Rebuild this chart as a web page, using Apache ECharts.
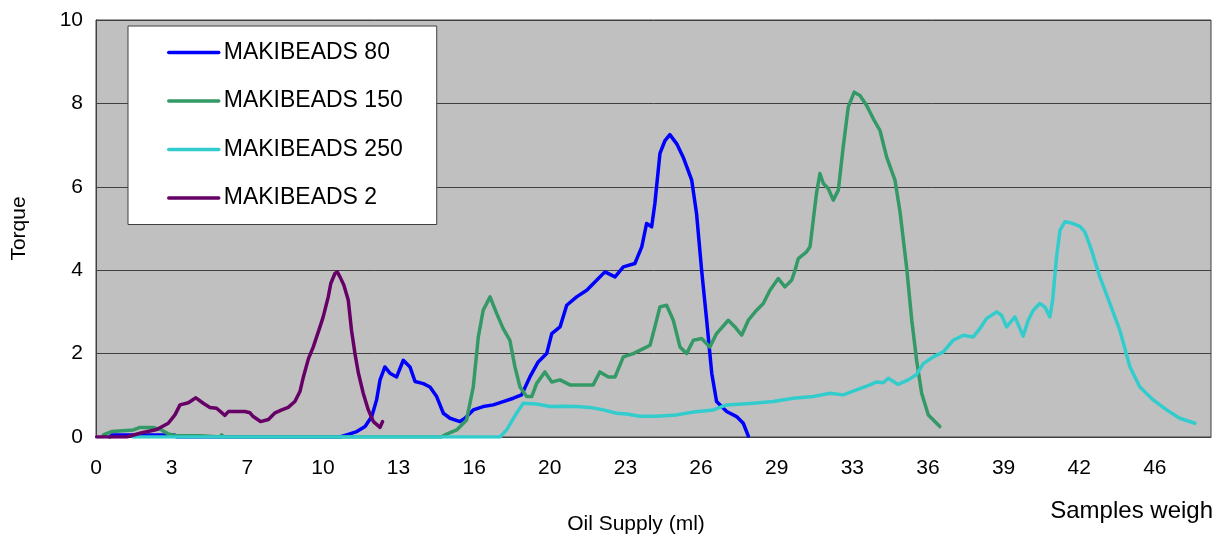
<!DOCTYPE html>
<html>
<head>
<meta charset="utf-8">
<script src="https://cdn.jsdelivr.net/npm/echarts@6/dist/echarts.min.js"></script>
<style>
html,body{margin:0;padding:0;background:#fff;}
#chart{width:1213px;height:537px;}
</style>
</head>
<body>
<div id="chart"></div>
<script>
// ---- data ----
const seriesNames = ['MAKIBEADS 80', 'MAKIBEADS 150', 'MAKIBEADS 250', 'MAKIBEADS 2'];
const xTickLabels = ['0','3','7','10','13','16','20','23','26','29','33','36','39','42','46'];
const yTicks = [0, 2, 4, 6, 8, 10];

const mb80 = [[0.6,0],[0.7,0.05],[2.5,0.05],[3.4,0.05],[3.5,0],[10.6,0],[10.89,0.05],[11.33,0.13],[11.69,0.25],[11.98,0.49],[12.19,0.89],[12.34,1.37],[12.55,1.68],[12.77,1.53],[13.06,1.44],[13.35,1.84],[13.42,1.84],[13.64,1.68],[13.86,1.33],[14.22,1.28],[14.51,1.2],[14.8,0.97],[15.09,0.57],[15.38,0.45],[15.81,0.37],[16.03,0.45],[16.39,0.65],[16.82,0.73],[17.26,0.77],[17.69,0.85],[18.13,0.93],[18.49,1.01],[18.85,1.44],[19.21,1.8],[19.58,2.0],[19.8,2.48],[20.16,2.64],[20.45,3.16],[20.88,3.36],[21.32,3.52],[21.75,3.76],[22.11,3.96],[22.55,3.84],[22.91,4.08],[23.41,4.16],[23.71,4.56],[23.92,5.12],[24.14,5.04],[24.28,5.6],[24.5,6.8],[24.72,7.11],[24.93,7.25],[25.23,7.03],[25.51,6.71],[25.88,6.16],[26.09,5.36],[26.31,4.0],[26.53,2.8],[26.75,1.53],[26.96,0.85],[27.4,0.61],[27.83,0.49],[28.12,0.33],[28.34,0.02]];

const mb150 = [[0.32,0.05],[0.68,0.13],[1.62,0.17],[1.91,0.23],[2.49,0.23],[2.85,0.17],[3.14,0.07],[3.5,0.03],[4.52,0.03],[5.39,0],[5.46,0.05],[5.55,0],[15.0,0],[15.16,0.05],[15.67,0.17],[16.1,0.41],[16.39,1.2],[16.61,2.4],[16.82,3.04],[17.12,3.36],[17.41,2.96],[17.69,2.6],[17.98,2.32],[18.2,1.68],[18.42,1.2],[18.71,0.97],[18.93,0.97],[19.14,1.28],[19.5,1.56],[19.8,1.32],[20.16,1.37],[20.59,1.25],[21.03,1.25],[21.6,1.25],[21.89,1.56],[22.26,1.44],[22.55,1.44],[22.91,1.92],[23.34,2.0],[23.78,2.12],[24.07,2.2],[24.28,2.64],[24.5,3.12],[24.79,3.16],[25.08,2.8],[25.37,2.16],[25.66,2.0],[25.95,2.32],[26.31,2.36],[26.67,2.16],[26.96,2.48],[27.47,2.8],[27.76,2.64],[28.05,2.44],[28.34,2.8],[28.7,3.04],[28.99,3.2],[29.28,3.52],[29.64,3.8],[29.93,3.6],[30.22,3.76],[30.37,4.0],[30.51,4.28],[30.87,4.44],[31.02,4.56],[31.16,5.2],[31.3,5.84],[31.45,6.32],[31.6,6.08],[31.81,5.96],[32.03,5.68],[32.25,5.92],[32.46,6.95],[32.68,7.91],[32.94,8.27],[33.19,8.19],[33.48,7.95],[33.77,7.63],[34.06,7.35],[34.35,6.71],[34.71,6.16],[34.93,5.4],[35.22,4.05],[35.44,2.8],[35.65,1.84],[35.87,1.05],[36.16,0.53],[36.66,0.25]];

const mb250 = [[1.6,0],[17.55,0],[17.84,0.17],[18.27,0.57],[18.56,0.81],[19.14,0.79],[19.72,0.73],[20.3,0.74],[20.88,0.73],[21.46,0.71],[22.04,0.65],[22.62,0.57],[23.05,0.55],[23.63,0.5],[24.36,0.5],[25.23,0.53],[25.95,0.6],[26.82,0.65],[27.4,0.77],[28.56,0.81],[29.42,0.85],[30.29,0.93],[31.16,0.97],[31.89,1.05],[32.46,1.01],[33.04,1.13],[33.62,1.25],[33.91,1.32],[34.2,1.3],[34.42,1.41],[34.85,1.26],[35.29,1.37],[35.65,1.5],[35.94,1.76],[36.37,1.92],[36.81,2.04],[37.24,2.32],[37.68,2.44],[38.11,2.4],[38.4,2.6],[38.69,2.84],[39.13,3.0],[39.34,2.92],[39.56,2.64],[39.92,2.88],[40.28,2.42],[40.5,2.8],[40.72,3.04],[41.0,3.2],[41.22,3.12],[41.44,2.88],[41.56,3.28],[41.73,4.32],[41.88,4.96],[42.09,5.16],[42.38,5.13],[42.75,5.05],[42.96,4.92],[43.25,4.48],[43.61,3.84],[44.05,3.2],[44.48,2.56],[44.92,1.68],[45.35,1.2],[45.93,0.89],[46.51,0.65],[47.08,0.45],[47.74,0.33]];

const mb2 = [[0.03,0],[1.33,0],[1.91,0.09],[2.64,0.18],[3.14,0.33],[3.43,0.53],[3.65,0.77],[4.01,0.82],[4.34,0.94],[4.66,0.81],[4.95,0.71],[5.24,0.69],[5.6,0.52],[5.75,0.61],[6.11,0.61],[6.47,0.61],[6.69,0.58],[6.83,0.49],[7.15,0.37],[7.49,0.42],[7.78,0.58],[8.07,0.65],[8.35,0.71],[8.64,0.85],[8.86,1.09],[9.01,1.44],[9.23,1.88],[9.44,2.16],[9.73,2.64],[9.87,2.88],[10.09,3.36],[10.2,3.68],[10.38,3.92],[10.48,3.96],[10.6,3.84],[10.77,3.64],[10.96,3.28],[11.1,2.56],[11.25,2.0],[11.4,1.53],[11.61,1.05],[11.83,0.65],[12.05,0.37],[12.34,0.23],[12.45,0.37]];

const seriesData = [mb80, mb150, mb250, mb2];
const seriesColors = ['#0000FF', '#339966', '#33CCCC', '#660066'];

// ---- chart ----
const FONT = '"Liberation Sans", Arial, sans-serif';
const xStep = 46 / 14;
const chart = echarts.init(document.getElementById('chart'), null, {renderer: 'canvas'});
const option = {
  backgroundColor: '#ffffff',
  animation: false,
  textStyle: {fontFamily: FONT, color: '#000'},
  title: {
    text: 'Samples weigh',
    right: 0,
    top: 499,
    padding: 0,
    textStyle: {fontFamily: FONT, fontSize: 24, fontWeight: 'normal', color: '#000', lineHeight: 24}
  },
  grid: {
    left: 96, top: 20, right: 2, bottom: 100,
    outerBoundsMode: 'none',
    containLabel: false,
    show: true, backgroundColor: '#C0C0C0', borderColor: '#404040', borderWidth: 1
  },
  legend: {
    orient: 'vertical',
    left: 128, top: 26,
    padding: [15, 34, 15, 39],
    backgroundColor: '#ffffff',
    borderColor: '#404040', borderWidth: 1,
    itemWidth: 50, itemHeight: 22, itemGap: 25.5,
    itemStyle: {opacity: 0},
    lineStyle: {width: 3.5},
    textStyle: {fontFamily: FONT, fontSize: 23, color: '#000', lineHeight: 23},
    data: seriesNames
  },
  xAxis: {
    type: 'value',
    min: 0, max: 48.44,
    interval: xStep,
    name: 'Oil Supply (ml)',
    nameLocation: 'middle',
    nameGap: 77,
    nameTextStyle: {fontFamily: FONT, fontSize: 21, color: '#000', padding: [0, 35, 0, 0]},
    axisLine: {show: true, lineStyle: {color: '#404040', width: 1}},
    axisTick: {show: false},
    splitLine: {show: false},
    axisLabel: {
      fontFamily: FONT, fontSize: 21, color: '#000', margin: 21,
      showMaxLabel: false,
      formatter: function (v) {
        const i = Math.round(v / xStep);
        return (Math.abs(v - i * xStep) < 1e-6 && xTickLabels[i] !== undefined) ? xTickLabels[i] : '';
      }
    }
  },
  yAxis: {
    type: 'value',
    min: yTicks[0], max: yTicks[yTicks.length - 1], interval: 2,
    name: 'Torque',
    nameLocation: 'middle',
    nameGap: 66,
    nameTextStyle: {fontFamily: FONT, fontSize: 21, color: '#000'},
    axisLine: {show: true, lineStyle: {color: '#404040', width: 1}},
    axisTick: {show: false},
    splitLine: {show: true, lineStyle: {color: '#404040', width: 1}},
    axisLabel: {fontFamily: FONT, fontSize: 21, color: '#000', margin: 13}
  },
  series: seriesNames.map(function (n, i) {
    return {
      name: n,
      type: 'line',
      data: seriesData[i],
      symbol: 'none',
      smooth: false,
      color: seriesColors[i],
      lineStyle: {color: seriesColors[i], width: 3.5, join: 'round', cap: 'round'},
      z: 2 + i
    };
  })
};
chart.setOption(option);
</script>
</body>
</html>
